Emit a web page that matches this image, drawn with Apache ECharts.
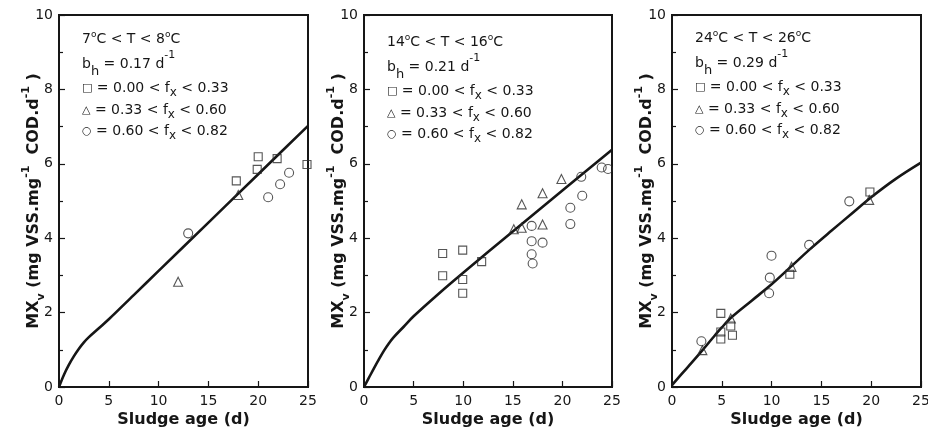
<!DOCTYPE html>
<html><head><meta charset="utf-8">
<script src="https://cdn.jsdelivr.net/npm/echarts@6/dist/echarts.min.js"></script>
<style>html,body{margin:0;padding:0;background:#fff}#c{width:928px;height:434px}</style>
</head><body><div id="c"></div>
<script>
// ---- data ----
const xTicks = [0, 5, 10, 15, 20, 25];
const yTicks = [0, 2, 4, 6, 8, 10];
const panelTemps = [['7', '8'], ['14', '16'], ['24', '26']];
const panelBh = ['0.17', '0.21', '0.29'];
const fxRanges = [['0.00', '0.33'], ['0.33', '0.60'], ['0.60', '0.82']];

const p1Squares = [[17.8, 5.54], [19.9, 5.85], [20.0, 6.19], [21.9, 6.14], [24.9, 5.98]];
const p1Triangles = [[11.96, 2.83], [18.0, 5.16]];
const p1Circles = [[12.97, 4.13], [21.0, 5.10], [22.2, 5.45], [23.1, 5.76]];
const p1Model = [[0, 0], [0.5, 0.33], [1, 0.6], [1.5, 0.83], [2, 1.03], [2.5, 1.2], [3, 1.34], [4, 1.58], [5, 1.82], [7.5, 2.47], [10, 3.12], [15, 4.42], [20, 5.72], [25, 7.02]];

const p2Squares = [[7.93, 3.59], [7.93, 2.99], [9.95, 3.68], [9.95, 2.89], [9.95, 2.52], [11.86, 3.37]];
const p2Triangles = [[15.1, 4.24], [15.9, 4.28], [15.9, 4.91], [18.0, 5.21], [18.0, 4.37], [19.9, 5.59]];
const p2Circles = [[16.9, 4.33], [16.9, 3.92], [16.9, 3.57], [17.0, 3.32], [18.0, 3.88], [20.8, 4.82], [20.8, 4.38], [21.9, 5.65], [22.0, 5.14], [23.96, 5.9], [24.6, 5.86]];
const p2Model = [[0, 0], [0.5, 0.25], [1, 0.5], [1.5, 0.74], [2, 0.97], [2.5, 1.17], [3, 1.34], [4, 1.62], [5, 1.9], [7.5, 2.5], [10, 3.07], [15, 4.18], [20, 5.28], [25, 6.38]];

const p3Squares = [[4.9, 1.98], [4.9, 1.48], [4.9, 1.29], [5.9, 1.64], [6.07, 1.39], [11.83, 3.03], [19.87, 5.24]];
const p3Triangles = [[3.05, 0.99], [5.9, 1.84], [12.0, 3.23], [19.8, 5.03]];
const p3Circles = [[2.95, 1.23], [9.99, 3.53], [9.82, 2.94], [9.75, 2.52], [13.77, 3.82], [17.8, 4.99]];
const p3Model = [[0, 0.05], [1, 0.36], [2, 0.66], [3, 0.97], [4, 1.29], [5, 1.6], [6, 1.88], [8, 2.32], [10, 2.76], [12, 3.25], [14, 3.74], [16, 4.2], [18, 4.65], [20, 5.1], [22.5, 5.6], [25, 6.03]];

const panels = [
  {sq: p1Squares, tr: p1Triangles, ci: p1Circles, model: p1Model},
  {sq: p2Squares, tr: p2Triangles, ci: p2Circles, model: p2Model},
  {sq: p3Squares, tr: p3Triangles, ci: p3Circles, model: p3Model}
];

// ---- layout ----
const gridLeft = [59, 364, 672];
const gridWidth = [249, 248, 249];
const gridTop = 15, gridHeight = 372;
const legendDy = [0, 3, -1];
const legendYs = [39, 64, 88, 110, 131];
const INK = '#161616';
const FONT = 'DejaVu Sans';

const chart = echarts.init(document.getElementById('c'), null, {renderer: 'canvas'});

const grids = [], xAxes = [], yAxes = [], series = [], graphics = [];

const nameRich = {
  m: {fontFamily: FONT, fontWeight: 'bold', fontSize: 16, lineHeight: 26, color: INK},
  sub: {fontFamily: FONT, fontWeight: 'bold', fontSize: 11, lineHeight: 16, verticalAlign: 'bottom', color: INK},
  sup: {fontFamily: FONT, fontWeight: 'bold', fontSize: 11, lineHeight: 6, verticalAlign: 'top', color: INK}
};

panels.forEach((p, i) => {
  grids.push({left: gridLeft[i], top: gridTop, width: gridWidth[i], height: gridHeight,
    show: true, borderColor: INK, borderWidth: 2, backgroundColor: 'transparent',
    containLabel: false, outerBoundsMode: 'none'});
  xAxes.push({
    type: 'value', gridIndex: i, min: xTicks[0], max: xTicks[xTicks.length - 1], interval: xTicks[1] - xTicks[0],
    name: 'Sludge age (d)', nameLocation: 'middle', nameGap: 23, nameMoveOverlap: false,
    nameTextStyle: {fontFamily: FONT, fontWeight: 'bold', fontSize: 16, lineHeight: 20, color: INK},
    axisLine: {show: true, onZero: false, lineStyle: {color: INK, width: 2}},
    axisTick: {show: true, inside: true, length: 6, lineStyle: {color: INK, width: 1.2}},
    axisLabel: {fontFamily: FONT, fontSize: 14, color: INK, margin: 7, showMinLabel: true, showMaxLabel: true},
    splitLine: {show: false}
  });
  yAxes.push({
    type: 'value', gridIndex: i, min: yTicks[0], max: yTicks[yTicks.length - 1], interval: yTicks[1] - yTicks[0],
    name: '{m|MX}{sub|v}{m| (mg VSS.mg}{sup|-1}{m|  COD.d}{sup|-1}{m| )}',
    nameLocation: 'middle', nameGap: 12, nameRotate: 90, nameMoveOverlap: false,
    nameTextStyle: {rich: nameRich},
    axisLine: {show: true, onZero: false, lineStyle: {color: INK, width: 2}},
    axisTick: {show: true, inside: true, length: 6, lineStyle: {color: INK, width: 1.2}},
    minorTick: {show: true, splitNumber: 2, length: 4, lineStyle: {color: INK, width: 1.2}},
    axisLabel: {fontFamily: FONT, fontSize: 14, color: INK, margin: 6},
    splitLine: {show: false}
  });
  const hollow = {color: 'rgba(0,0,0,0)', borderColor: '#2a2a2a', borderWidth: 1.1};
  series.push({type: 'line', xAxisIndex: i, yAxisIndex: i, data: p.model, smooth: 0.35, symbol: 'none',
    lineStyle: {color: INK, width: 2.6}, z: 2, silent: true});
  series.push({type: 'scatter', name: 'sq' + i, xAxisIndex: i, yAxisIndex: i, data: p.sq, symbol: 'rect', symbolSize: 8, itemStyle: hollow, z: 3});
  series.push({type: 'scatter', name: 'tr' + i, xAxisIndex: i, yAxisIndex: i, data: p.tr, symbol: 'triangle', symbolSize: 9, itemStyle: hollow, z: 3});
  series.push({type: 'scatter', name: 'ci' + i, xAxisIndex: i, yAxisIndex: i, data: p.ci, symbol: 'circle', symbolSize: 9, itemStyle: hollow, z: 3});

  // annotation text
  const x0 = gridLeft[i] + 23;
  const dy = legendDy[i];
  const base = {fontFamily: FONT, fontSize: 14, fill: INK};
  const mk = (text, y, lh, rich) => ({
    type: 'text', x: x0, y: y + dy, z: 10, silent: true,
    style: Object.assign({}, base, {text: text, lineHeight: lh, align: 'left', verticalAlign: 'middle', rich: rich})
  });
  graphics.push(mk(panelTemps[i][0] + '{deg|o}C < T < ' + panelTemps[i][1] + '{deg|o}C', legendYs[0], 18,
    {deg: {fontFamily: FONT, fontSize: 9, lineHeight: 8, verticalAlign: 'top', fill: INK}}));
  graphics.push(mk('b{sub|h} = ' + panelBh[i] + ' d{sup|-1}', legendYs[1], 28,
    {sub: {fontFamily: FONT, fontSize: 13, lineHeight: 15, verticalAlign: 'bottom', fill: INK},
     sup: {fontFamily: FONT, fontSize: 11, lineHeight: 8, verticalAlign: 'top', fill: INK}}));
  const syms = ['\u25A1', '\u25B3', '\u25CB'];
  fxRanges.forEach((r, k) => {
    graphics.push(mk('{sym|' + syms[k] + '} = ' + r[0] + ' < f{sub|x} < ' + r[1], legendYs[2 + k], 22,
      {sub: {fontFamily: FONT, fontSize: 12, lineHeight: 10, verticalAlign: 'bottom', fill: INK},
       sym: {fontFamily: FONT, fontSize: 11, lineHeight: 22, fill: INK}}));
  });
});

chart.setOption({
  backgroundColor: '#fff',
  animation: false,
  grid: grids,
  xAxis: xAxes,
  yAxis: yAxes,
  series: series,
  graphic: {elements: graphics}
});
</script>
</body></html>
